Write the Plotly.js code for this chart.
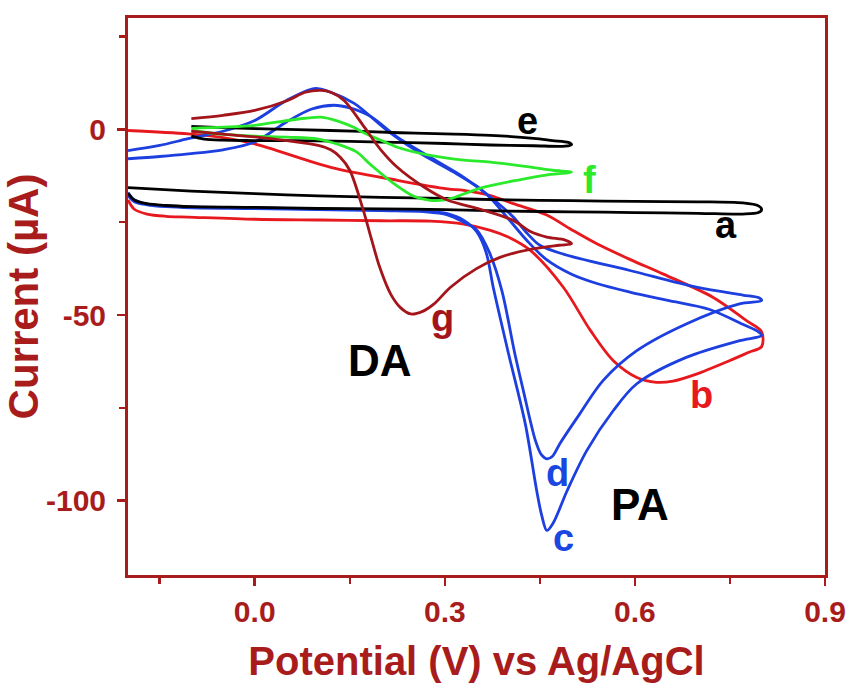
<!DOCTYPE html>
<html>
<head>
<meta charset="utf-8">
<script src="https://cdn.plot.ly/plotly-3.0.1.min.js"></script>
<style>
  html, body { margin: 0; padding: 0; background: #ffffff; }
  #chart { width: 848px; height: 688px; }
</style>
</head>
<body>
<div id="chart"></div>
<script>
// ---------- data (potential in V, current in µA) ----------
// curve a (black): forward then reverse sweep, -0.2 .. 0.8 V
const aX = [-0.2, -0.19, -0.17, -0.14, -0.1, 0, 0.1, 0.2, 0.3, 0.4, 0.5, 0.6, 0.7, 0.77, 0.795, 0.8,
            0.795, 0.77, 0.7, 0.6, 0.5, 0.4, 0.3, 0.2, 0.1, 0, -0.1, -0.2];
const aY = [-17.2, -19, -20, -20.5, -20.8, -21.0, -21.3, -21.4, -21.6, -22.0, -22.2, -22.4, -22.6, -22.8, -22.4, -21.6,
            -20.6, -19.8, -19.5, -19.4, -19.2, -19.0, -18.6, -18.3, -17.9, -17.3, -16.6, -15.7];

// curve b (red)
const bX = [-0.2, -0.19, -0.17, -0.14, -0.105, 0, 0.105, 0.2, 0.277, 0.33, 0.372, 0.4, 0.435, 0.487, 0.53, 0.566, 0.603, 0.634, 0.66, 0.697, 0.749, 0.78, 0.8,
            0.8, 0.776, 0.723, 0.644, 0.592, 0.54, 0.5, 0.46, 0.408, 0.372, 0.33, 0.304, 0.225, 0.12, 0, -0.05, -0.105, -0.2];
const bY = [-19, -21.5, -22.8, -23.4, -23.6, -24.2, -24.4, -24.6, -24.7, -25.5, -27.2, -29, -32.6, -42.5, -54.2, -62.3, -66.8, -68.1, -67.8, -65.9, -62.3, -60, -58.5,
            -54.5, -51.5, -45.2, -38.9, -35, -30.8, -27, -23, -20, -17.8, -16.4, -16.0, -13.7, -10.2, -3.9, -2.2, -1.2, -0.3];

// curve c (blue)
const cX = [-0.2, -0.19, -0.17, -0.14, -0.1, 0, 0.1, 0.2, 0.27, 0.304, 0.33, 0.35, 0.365, 0.377, 0.4, 0.427, 0.445, 0.453, 0.461, 0.471, 0.493, 0.524, 0.566, 0.603, 0.681, 0.765, 0.8,
            0.795, 0.77, 0.718, 0.65, 0.592, 0.54, 0.5, 0.46, 0.43, 0.4, 0.372, 0.356, 0.314, 0.262, 0.209, 0.157, 0.12, 0.094, 0.05, 0, -0.05, -0.105, -0.15, -0.2];
const cY = [-17, -19, -20.1, -20.6, -20.9, -21.1, -21.4, -21.7, -22.0, -22.7, -24.5, -27.5, -33, -43, -60, -79.3, -97.3, -104, -108, -106, -97.3, -86.5, -75.7, -68.5, -61.4, -56.9, -55.5,
            -54.5, -52.5, -48.5, -46, -43.8, -41.5, -39, -35, -30, -24, -18.5, -16, -11.5, -6.5, -0.3, 7, 10, 11, 7.8, 2.4, -0.5, -2.5, -4.3, -5.7];

// curve d (blue)
const dX = [-0.2, -0.19, -0.17, -0.14, -0.1, 0, 0.1, 0.2, 0.27, 0.304, 0.33, 0.35, 0.37, 0.39, 0.41, 0.424, 0.443, 0.452, 0.461, 0.47, 0.482, 0.513, 0.55, 0.603, 0.681, 0.765, 0.8,
            0.795, 0.77, 0.697, 0.592, 0.487, 0.45, 0.43, 0.408, 0.372, 0.33, 0.277, 0.225, 0.183, 0.15, 0.125, 0.09, 0.05, 0, -0.05, -0.105, -0.15, -0.2];
const dY = [-17.8, -19.5, -20.3, -20.8, -21.1, -21.3, -21.6, -21.9, -22.2, -23, -25, -27, -33, -43.4, -60, -70.4, -83.8, -87.5, -88.7, -88, -84.5, -76.6, -67.6, -59.6, -52.4, -47, -46.1,
            -45.3, -44.6, -42.5, -38, -33.6, -31.2, -28, -23.6, -18.2, -12.9, -7.5, -2.1, 3.5, 5.8, 6.5, 5.5, 2, -3.4, -5.5, -6.6, -7.3, -7.9];

// curve e (black, short window -0.1 .. 0.5 V)
const eX = [-0.1, -0.08, -0.05, 0, 0.1, 0.2, 0.3, 0.372, 0.44, 0.49, 0.5,
            0.495, 0.47, 0.44, 0.372, 0.3, 0.23, 0.12, 0, -0.05, -0.1];
const eY = [-1.8, -2.6, -2.9, -3.0, -3.1, -3.4, -3.8, -4.2, -4.4, -4.5, -4.1,
            -3.5, -3.0, -2.4, -1.6, -1.2, -0.9, -0.3, 0.2, 0.5, 0.8];

// curve f (green)
const fX = [-0.1, -0.053, 0, 0.052, 0.1, 0.131, 0.16, 0.183, 0.215, 0.251, 0.277, 0.3, 0.314, 0.356, 0.42, 0.46, 0.5,
            0.47, 0.43, 0.372, 0.33, 0.277, 0.225, 0.2, 0.173, 0.157, 0.13, 0.105, 0.08, 0.052, 0, -0.05, -0.1];
const fY = [-0.3, -1.3, -1.8, -2.1, -2.6, -4.0, -6, -9.5, -14, -18, -19.1, -19, -18.4, -15.8, -13.5, -12.3, -11.5,
            -11.0, -10.0, -8.8, -8.3, -7.0, -4.8, -3.0, -1.0, 0.5, 2.3, 3.3, 3.0, 2.4, 1.1, 0.6, 0.3];

// curve g (dark red)
const gX = [-0.1, -0.05, 0, 0.05, 0.1, 0.12, 0.135, 0.15, 0.17, 0.185, 0.197, 0.215, 0.23, 0.246, 0.265, 0.283, 0.309, 0.35, 0.388, 0.435, 0.48, 0.5,
            0.49, 0.461, 0.435, 0.408, 0.356, 0.304, 0.267, 0.225, 0.199, 0.173, 0.141, 0.12, 0.105, 0.08, 0.052, 0, -0.05, -0.1];
const gY = [-0.5, -1.3, -2.0, -3.0, -4.3, -5.5, -7.5, -11, -21, -30, -37, -44.5, -48, -49.7, -49, -47, -42.5, -37.5, -34.4, -32.3, -31.2, -30.8,
            -29.8, -29, -27.5, -24.5, -21.5, -19, -15.5, -10.2, -5.5, 0.6, 7.8, 10, 10.5, 10, 7.8, 5.1, 3.8, 2.9];

// tick values / labels
const xTickVals = [0, 0.3, 0.6, 0.9];
const xTickText = ['0.0', '0.3', '0.6', '0.9'];
const xMinorVals = [-0.15, 0.15, 0.45, 0.75];
const yTickVals = [-100, -50, 0];
const yTickText = ['-100', '-50', '0'];
const yMinorVals = [-75, -25, 25];

// curve labels
const labelText = ['e', 'f', 'a', 'b', 'g', 'DA', 'd', 'c', 'PA'];
const labelX    = [0.431, 0.529, 0.743, 0.705, 0.296, 0.197, 0.478, 0.488, 0.608];
const labelY    = [2.2, -13.7, -25.8, -71.6, -50.9, -62.1, -92.4, -109.9, -101.1];

// ---------- styling ----------
const AX = '#a81c1c';
const colors = { a: '#000000', b: '#e8191e', c: '#1d3fe0', d: '#1d3fe0', e: '#000000', f: '#2bea2b', g: '#a3151b' };
const labelColor = ['#000000', '#2bea2b', '#000000', '#e8191e', '#a3151b', '#000000', '#1a47e0', '#1a47e0', '#000000'];
const labelSize  = [38, 38, 38, 38, 38, 44, 38, 38, 44];
const FONT = 'Liberation Sans, Arial, sans-serif';

function tr(x, y, col) {
  return { x: x, y: y, type: 'scatter', mode: 'lines',
           line: { color: col, width: 2.8, shape: 'spline', smoothing: 0.9 },
           hoverinfo: 'skip', showlegend: false };
}

const data = [
  tr(bX, bY, colors.b),
  tr(cX, cY, colors.c),
  tr(dX, dY, colors.d),
  tr(aX, aY, colors.a),
  tr(eX, eY, colors.e),
  tr(fX, fY, colors.f),
  tr(gX, gY, colors.g)
];

const annotations = labelText.map((t, i) => ({
  x: labelX[i], y: labelY[i], xref: 'x', yref: 'y', text: t, showarrow: false,
  xanchor: 'center', yanchor: 'middle',
  font: { family: FONT, size: labelSize[i], color: labelColor[i], weight: 'bold' }
}));

const axisCommon = {
  showline: true, linewidth: 3, linecolor: AX, mirror: true,
  showgrid: false, zeroline: false,
  ticks: 'outside', ticklen: 8, tickwidth: 2.5, tickcolor: AX,
  tickmode: 'array',
  tickfont: { family: FONT, size: 30, color: AX, weight: 'bold' },
  automargin: false
};

const layout = {
  width: 848, height: 688,
  margin: { l: 128, r: 23, t: 18, b: 113 },
  paper_bgcolor: '#ffffff', plot_bgcolor: '#ffffff',
  showlegend: false,
  xaxis: Object.assign({}, axisCommon, {
    range: [-0.2, 0.9],
    tickvals: xTickVals, ticktext: xTickText,
    minor: { tickmode: 'array', tickvals: xMinorVals, ticks: 'outside', ticklen: 6, tickwidth: 2.5, tickcolor: AX, showgrid: false },
    title: { text: 'Potential (V) vs Ag/AgCl', standoff: 20,
             font: { family: FONT, size: 40, color: AX, weight: 'bold' } }
  }),
  yaxis: Object.assign({}, axisCommon, {
    range: [-120, 30],
    tickvals: yTickVals, ticktext: yTickText,
    ticklabelstandoff: 5,
    minor: { tickmode: 'array', tickvals: yMinorVals, ticks: 'outside', ticklen: 6, tickwidth: 2.5, tickcolor: AX, showgrid: false },
    title: { text: 'Current (µA)\u00A0\u00A0', standoff: 2,
             font: { family: FONT, size: 42, color: AX, weight: 'bold' } }
  }),
  annotations: annotations
};

Plotly.newPlot('chart', data, layout, { displayModeBar: false, staticPlot: true });
</script>
</body>
</html>
